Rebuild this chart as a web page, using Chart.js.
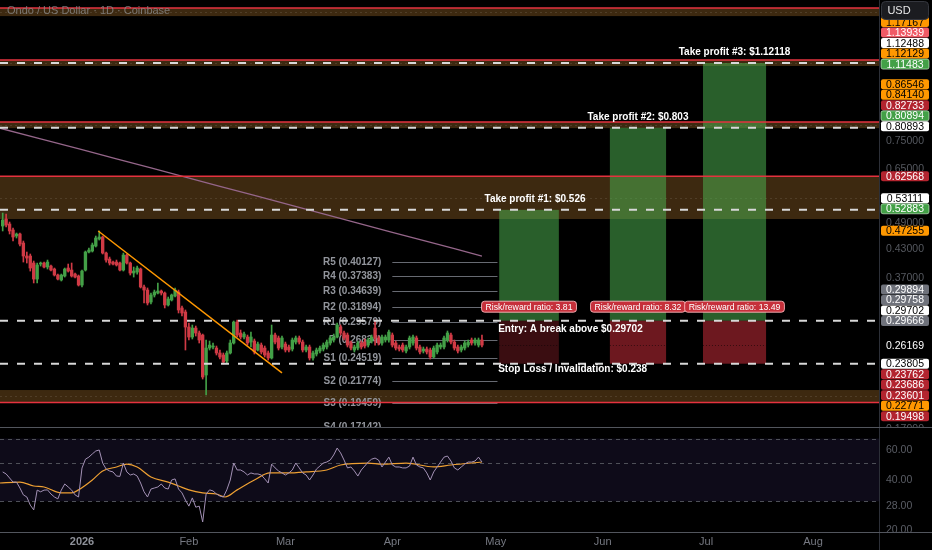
<!DOCTYPE html>
<html>
<head>
<meta charset="utf-8">
<script src="https://cdn.jsdelivr.net/npm/chart.js@4.4.1/dist/chart.umd.min.js"></script>
<style>
  html, body { margin: 0; padding: 0; background: #000; overflow: hidden; }
  #wrap { position: relative; width: 932px; height: 550px; background: #000; }
  #main { position: absolute; left: 0; top: 0; width: 932px; height: 428px; }
  #rsi { position: absolute; left: 0; top: 428px; width: 932px; height: 122px; }
</style>
</head>
<body>
<div id="wrap">
  <canvas id="main" width="932" height="428"></canvas>
  <canvas id="rsi" width="932" height="122"></canvas>
</div>
<script>
// ---- data (days counted from 1 Jan 2026) ----
var firstDay = -23;
var opens = [.4839,.5017,.4890,.4741,.4596,.4644,.4433,.4146,.4146,.3999,.3682,.3978,.3999,.3917,.3937,.3877,.3759,.3664,.3740,.3897,
  .3857,.3778,.3740,.3570,.3857,.4232,.4254,.4365,.4526,.4573,.4210,.4082,.4019,.4019,.3999,.3857,.4167,.3999,.3798,.3817,
  .3877,.3534,.3479,.3271,.3391,.3426,.3461,.3426,.3221,.3305,.3374,.3444,.3172,.3107,.2875,.2731,.2860,.2788,.2759,.2245,
  .2580,.2594,.2580,.2515,.2489,.2413,.2515,.2648,.2950,.2788,.2731,.2731,.2661,.2675,.2554,.2620,.2580,.2515,.2451,.2759,
  .2717,.2594,.2634,.2594,.2567,.2661,.2717,.2661,.2554,.2594,.2451,.2502,.2541,.2567,.2594,.2648,.2689,.2731,.2875,.2788,
  .2759,.2648,.2554,.2580,.2648,.2661,.2620,.2675,.2860,.2717,.2648,.2689,.2689,.2759,.2648,.2594,.2620,.2541,.2594,.2648,
  .2717,.2594,.2541,.2567,.2554,.2463,.2528,.2594,.2594,.2689,.2759,.2661,.2594,.2554,.2580,.2620,.2689,.2648,.2620,.2689];
var highs = [.5174,.5148,.4940,.4789,.4668,.4668,.4479,.4232,.4189,.4040,.3999,.4019,.4019,.4061,.3958,.3897,.3778,.3778,.3897,.3978,
  .3999,.3798,.3759,.3857,.4254,.4321,.4433,.4596,.4717,.4596,.4232,.4124,.4040,.4061,.4019,.4210,.4189,.4019,.3917,.3937,
  .3897,.3570,.3516,.3426,.3479,.3608,.3479,.3444,.3356,.3408,.3516,.3479,.3204,.3139,.2935,.2905,.2890,.2817,.2773,.2689,
  .2675,.2648,.2607,.2554,.2515,.2541,.2689,.2966,.2981,.2831,.2802,.2759,.2802,.2703,.2661,.2648,.2607,.2541,.2905,.2788,
  .2745,.2745,.2661,.2620,.2717,.2745,.2745,.2689,.2620,.2620,.2541,.2580,.2607,.2648,.2689,.2745,.2773,.2935,.2905,.2817,
  .2788,.2675,.2620,.2675,.2675,.2703,.2717,.2759,.2981,.2745,.2759,.2759,.2831,.2788,.2675,.2620,.2648,.2620,.2745,.2759,
  .2745,.2620,.2594,.2594,.2580,.2607,.2648,.2648,.2745,.2817,.2788,.2689,.2620,.2620,.2675,.2689,.2717,.2717,.2717,.2759];
var lows = [.4717,.4814,.4644,.4479,.4549,.4365,.4019,.3999,.3837,.3608,.3608,.3937,.3897,.3877,.3837,.3740,.3664,.3645,.3720,.3817,
  .3720,.3701,.3552,.3534,.3837,.4210,.4232,.4343,.4502,.4189,.4019,.3958,.3958,.3937,.3837,.3837,.3978,.3759,.3720,.3778,
  .3516,.3254,.3221,.3238,.3356,.3408,.3391,.3172,.3204,.3288,.3356,.3091,.3043,.2554,.2689,.2703,.2745,.2648,.2199,.2025,
  .2554,.2567,.2489,.2438,.2376,.2388,.2502,.2634,.2731,.2703,.2703,.2620,.2594,.2502,.2541,.2502,.2463,.2425,.2438,.2634,
  .2554,.2567,.2528,.2528,.2541,.2634,.2634,.2528,.2528,.2425,.2425,.2476,.2515,.2541,.2567,.2620,.2661,.2717,.2759,.2689,
  .2594,.2554,.2528,.2554,.2567,.2580,.2594,.2648,.2620,.2620,.2620,.2661,.2661,.2594,.2554,.2541,.2528,.2515,.2567,.2620,
  .2554,.2502,.2515,.2502,.2438,.2451,.2502,.2567,.2567,.2661,.2634,.2554,.2515,.2528,.2554,.2594,.2620,.2620,.2594,.2594];
var closes = [.4991,.4864,.4717,.4573,.4644,.4410,.4146,.4103,.3897,.3682,.3958,.3999,.3917,.4019,.3857,.3759,.3682,.3759,.3877,.3837,
  .3740,.3720,.3570,.3837,.4232,.4276,.4388,.4549,.4573,.4210,.4061,.3999,.3978,.3958,.3857,.4167,.3999,.3798,.3837,.3897,
  .3534,.3479,.3254,.3391,.3444,.3461,.3426,.3221,.3322,.3391,.3479,.3139,.3091,.2875,.2731,.2860,.2788,.2689,.2222,.2580,
  .2620,.2607,.2515,.2463,.2400,.2515,.2648,.2950,.2759,.2731,.2773,.2648,.2731,.2528,.2634,.2528,.2489,.2451,.2759,.2661,
  .2580,.2717,.2554,.2554,.2689,.2717,.2661,.2554,.2594,.2451,.2515,.2554,.2580,.2620,.2661,.2717,.2731,.2905,.2788,.2717,
  .2620,.2580,.2594,.2648,.2594,.2607,.2689,.2731,.2717,.2648,.2731,.2731,.2802,.2620,.2580,.2567,.2554,.2594,.2717,.2731,
  .2580,.2528,.2567,.2528,.2463,.2580,.2620,.2620,.2717,.2788,.2661,.2580,.2541,.2594,.2648,.2661,.2648,.2689,.2689,.2620];
var rsiValues = [44.6,43.4,41.1,38.9,38.9,35.9,32.7,31.8,28.5,26.7,34.9,34.1,34.9,35.0,33.1,31.8,31.0,34.9,37.9,36.4,
  34.9,32.7,31.8,47.0,53.0,54.5,56.9,59.2,60.0,50.3,46.4,45.2,44.6,42.2,42.0,50.3,44.6,42.8,43.4,42.2,
  38.4,34.1,31.8,35.4,35.9,36.4,37.9,35.9,35.4,40.0,40.6,35.4,33.6,30.5,28.1,31.4,27.7,28.1,22.7,33.1,
  35.0,34.5,33.1,32.2,31.8,35.0,40.0,50.3,45.8,45.8,44.6,42.8,44.0,43.4,43.4,42.8,40.6,38.4,49.6,47.1,
  45.2,44.0,42.8,44.0,45.8,50.3,47.1,44.0,42.8,40.0,42.8,46.4,48.3,50.3,51.0,52.4,56.1,61.6,57.7,52.4,
  47.1,47.7,45.2,42.2,45.8,48.3,51.0,53.0,53.8,52.4,47.7,51.0,54.5,49.0,47.7,47.7,47.1,47.1,48.3,54.5,
  49.0,47.7,47.1,44.0,40.0,44.6,47.7,51.0,54.5,55.3,51.7,47.1,45.8,47.7,49.6,51.0,51.0,51.7,54.5,51.0];
var rsiMaDays = [-24,-18,-14,-11,-6,-3,-1,3,6,10,13,16,20,25,28,31,35,39,41.5,45,50,54.5,59.5,65,71,75,83,87,94,102,107,116];
var rsiMaValues = [38.4,38.9,36.9,36.4,33.6,33.6,35.0,40.0,45.2,47.7,49.6,47.7,41.7,38.9,36.9,35.0,33.6,33.1,31.8,35.0,40.0,44.0,44.0,44.6,45.8,49.0,50.3,49.6,50.3,47.7,49.0,51.0];
var smaDays = [-24, 0, 20, 40, 60, 80, 100, 116];
var smaValues = [0.802, 0.717, 0.653, 0.594, 0.540, 0.491, 0.447, 0.4146];
var trendDays = [4.7, 58];
var trendPrices = [0.4717, 0.2269];

var pivotNames = ['R5', 'R4', 'R3', 'R2', 'R1', 'P', 'S1', 'S2', 'S3', 'S4'];
var pivotValues = [0.40127, 0.37383, 0.34639, 0.31894, 0.29579, 0.26834, 0.24519, 0.21774, 0.19459, 0.17142];
var pivotFrom = 90, pivotTo = 120.5;

var zoneHigh = [1.489, 1.13939, 0.82733, 0.62568, 0.2078];
var zoneLow = [1.428, 1.104, 0.8015, 0.5017, 0.19498];
var redLevels = [1.489, 1.13939, 0.82733, 0.62568, 0.19498];

var entry = 0.29702, stop = 0.238, currentPrice = 0.26169;
var targets = [0.526, 0.803, 1.12118];
var boxFrom = [121, 153.1, 180.1];
var boxTo = [138.3, 169.4, 198.4];
var rrRatios = ['3.81', '8.32', '13.49'];

var axisPrices = [1.17167, 1.13939, 1.12488, 1.12129, 1.11483, 0.86546, 0.84140, 0.82733, 0.80894, 0.80893,
  0.62568, 0.53111, 0.52883, 0.47255, 0.29894, 0.29758, 0.29702, 0.29666, 0.26169,
  0.23805, 0.23762, 0.23686, 0.23601, 0.22771, 0.19498];
var axisStyles = ['orange', 'pink', 'white', 'orange', 'green', 'orange', 'orange', 'red', 'green', 'white',
  'red', 'white', 'green', 'orange', 'grey', 'grey', 'white', 'grey', 'plain',
  'white', 'red', 'red', 'red', 'orange', 'red'];
var priceTicks = [0.75, 0.65, 0.49, 0.43, 0.37, 0.17];
var rsiTicks = [60, 40, 28, 20];
var rsiLevels = [70, 50, 30];
var monthDays = [0, 31, 59, 90, 120, 151, 181, 212];
var monthLabels = ['2026', 'Feb', 'Mar', 'Apr', 'May', 'Jun', 'Jul', 'Aug'];

// ---- view ----
var dayMin = -23.78, dayMax = 231.15;
var priceMin = 0.17174, priceMax = 1.5514;
var rsiMin = 19.81, rsiMax = 80.77;
var FONT = '"Liberation Sans", Arial, sans-serif';
var GREEN = '#43a047', RED = '#d03a45';

var labelStyle = {
  orange: { bg: '#ff9800', fg: '#000' },
  pink:   { bg: '#f05a66', fg: '#fff' },
  white:  { bg: '#ffffff', fg: '#000' },
  green:  { bg: '#43a047', fg: '#fff', border: 'rgba(220,255,220,0.6)' },
  red:    { bg: '#b3242f', fg: '#fff' },
  grey:   { bg: '#6f727b', fg: '#fff' },
  plain:  { bg: '#000000', fg: '#fff' }
};

var days = opens.map(function (o, i) { return firstDay + i; });
var candleColors = opens.map(function (o, i) { return closes[i] >= o ? GREEN : RED; });

function hLine(ctx, x1, x2, y) {
  ctx.beginPath(); ctx.moveTo(x1, y); ctx.lineTo(x2, y); ctx.stroke();
}
function rrect(ctx, x, y, w, h, r) {
  ctx.beginPath();
  ctx.moveTo(x + r, y); ctx.lineTo(x + w - r, y); ctx.quadraticCurveTo(x + w, y, x + w, y + r);
  ctx.lineTo(x + w, y + h - r); ctx.quadraticCurveTo(x + w, y + h, x + w - r, y + h);
  ctx.lineTo(x + r, y + h); ctx.quadraticCurveTo(x, y + h, x, y + h - r);
  ctx.lineTo(x, y + r); ctx.quadraticCurveTo(x, y, x + r, y);
  ctx.closePath();
}

var mainDecor = {
  id: 'mainDecor',
  beforeDatasetsDraw: function (chart) {
    var ctx = chart.ctx, a = chart.chartArea, x = chart.scales.x, y = chart.scales.y;
    ctx.save();
    // supply / demand zones
    zoneHigh.forEach(function (hi, k) {
      var y1 = y.getPixelForValue(hi), y2 = y.getPixelForValue(zoneLow[k]);
      ctx.fillStyle = '#3d2910';
      ctx.fillRect(a.left, y1, a.right - a.left, y2 - y1);
      ctx.setLineDash([2, 3]);
      ctx.strokeStyle = 'rgba(255,255,255,0.10)';
      ctx.lineWidth = 1;
      hLine(ctx, a.left, a.right, Math.round((y1 + y2) / 2) + 0.5);
      ctx.setLineDash([]);
    });
    // long position boxes
    targets.forEach(function (tp, k) {
      var xl = x.getPixelForValue(boxFrom[k]), xr = x.getPixelForValue(boxTo[k]);
      var yt = y.getPixelForValue(tp), ye = y.getPixelForValue(entry), ys = y.getPixelForValue(stop);
      ctx.fillStyle = 'rgba(76,175,80,0.54)';
      ctx.fillRect(xl, yt, xr - xl, ye - yt);
      ctx.fillStyle = k === 0 ? 'rgba(242,54,69,0.24)' : 'rgba(242,54,69,0.45)';
      ctx.fillRect(xl, ye, xr - xl, ys - ye);
      ctx.setLineDash([1, 2]);
      ctx.strokeStyle = 'rgba(0,0,0,0.5)';
      hLine(ctx, xl, xr, Math.round(y.getPixelForValue(currentPrice)) + 0.5);
      ctx.setLineDash([]);
    });
    // monthly pivots
    var px1 = x.getPixelForValue(pivotFrom), px2 = x.getPixelForValue(pivotTo);
    ctx.font = 'bold 10px ' + FONT;
    ctx.textAlign = 'right';
    ctx.textBaseline = 'middle';
    pivotValues.forEach(function (v, k) {
      var py = Math.round(y.getPixelForValue(v)) + 0.5;
      ctx.strokeStyle = '#676a72';
      ctx.lineWidth = 1;
      hLine(ctx, px1, px2, py);
      ctx.fillStyle = '#92959c';
      ctx.fillText(pivotNames[k] + ' (' + v.toFixed(5) + ')', px1 - 11, py);
    });
    ctx.restore();
  },
  afterDatasetsDraw: function (chart) {
    var ctx = chart.ctx, a = chart.chartArea, x = chart.scales.x, y = chart.scales.y;
    ctx.save();
    ctx.lineWidth = 1.5;
    ctx.strokeStyle = '#e5323f';
    redLevels.forEach(function (v) { hLine(ctx, a.left, a.right, y.getPixelForValue(v)); });
    ctx.lineWidth = 2;
    ctx.strokeStyle = '#d8d8d8';
    ctx.setLineDash([8, 9]);
    targets.concat([entry, stop]).forEach(function (v) { hLine(ctx, a.left, a.right, y.getPixelForValue(v)); });
    ctx.setLineDash([]);

    ctx.font = 'bold 10px ' + FONT;
    ctx.fillStyle = '#ffffff';
    ctx.textBaseline = 'middle';
    ctx.textAlign = 'center';
    targets.forEach(function (tp, k) {
      var cx = (x.getPixelForValue(boxFrom[k]) + x.getPixelForValue(boxTo[k])) / 2;
      ctx.fillText('Take profit #' + (k + 1) + ': $' + tp, cx + (k === 0 ? 6 : 0), y.getPixelForValue(tp) - 11);
    });
    ctx.textAlign = 'left';
    var ex = x.getPixelForValue(boxFrom[0]) - 1;
    ctx.fillText('Entry: A break above $' + entry, ex, y.getPixelForValue(entry) + 9);
    ctx.fillText('Stop Loss / Invalidation: $' + stop, ex, y.getPixelForValue(stop) + 5.5);

    // risk / reward badges
    ctx.font = '8.7px ' + FONT;
    ctx.textAlign = 'center';
    targets.forEach(function (tp, k) {
      var cx = (x.getPixelForValue(boxFrom[k]) + x.getPixelForValue(boxTo[k])) / 2;
      var cy = y.getPixelForValue(entry) - 14;
      var txt = 'Risk/reward ratio: ' + rrRatios[k];
      var w = ctx.measureText(txt).width + 8;
      rrect(ctx, cx - w / 2, cy - 5.5, w, 11, 3);
      ctx.fillStyle = '#c6303b';
      ctx.fill();
      ctx.strokeStyle = 'rgba(255,190,195,0.85)';
      ctx.lineWidth = 1;
      ctx.stroke();
      ctx.fillStyle = '#ffffff';
      ctx.fillText(txt, cx, cy + 0.5);
    });

    // title
    ctx.font = '11px ' + FONT;
    ctx.textAlign = 'left';
    ctx.fillStyle = 'rgba(140,140,140,0.8)';
    ctx.fillText('Ondo / US Dollar \u00b7 1D \u00b7 Coinbase', 7, 10.5);
    ctx.restore();
  },
  afterDraw: function (chart) {
    var ctx = chart.ctx, a = chart.chartArea, y = chart.scales.y, W = chart.width;
    ctx.save();
    ctx.fillStyle = '#000';
    ctx.fillRect(a.right, 0, W - a.right, chart.height);
    ctx.strokeStyle = '#2c2f37';
    ctx.lineWidth = 1;
    ctx.beginPath(); ctx.moveTo(a.right + 0.5, 0); ctx.lineTo(a.right + 0.5, chart.height); ctx.stroke();

    ctx.font = '10.5px ' + FONT;
    ctx.textBaseline = 'middle';
    ctx.textAlign = 'center';
    var cx = a.right + 26;
    priceTicks.forEach(function (v) {
      ctx.fillStyle = '#55585f';
      ctx.fillText(v.toFixed(5), cx, y.getPixelForValue(v));
    });

    // price labels, stacked away from the current price
    var LH = 10.5;
    var items = axisPrices.map(function (p, i) { return { p: p, s: axisStyles[i], y: y.getPixelForValue(p) }; });
    var prev = Infinity;
    items.filter(function (it) { return it.p > currentPrice; })
      .sort(function (m, n) { return m.p - n.p; })
      .forEach(function (it) { it.d = Math.min(it.y, prev - LH); prev = it.d; });
    prev = -Infinity;
    items.filter(function (it) { return it.p < currentPrice; })
      .sort(function (m, n) { return n.p - m.p; })
      .forEach(function (it) { it.d = Math.max(it.y, prev + LH); prev = it.d; });
    items.forEach(function (it) {
      if (it.d === undefined) it.d = it.y;
      var st = labelStyle[it.s];
      rrect(ctx, a.right + 2, it.d - 5, 48, 10, 2);
      ctx.fillStyle = st.bg;
      ctx.fill();
      if (st.border) { ctx.strokeStyle = st.border; ctx.lineWidth = 1; ctx.stroke(); }
      ctx.fillStyle = st.fg;
      ctx.fillText(it.p.toFixed(5), cx, it.d + 0.5);
    });

    // currency box
    rrect(ctx, a.right + 2.5, 1.5, 47, 18, 4);
    ctx.fillStyle = '#1b1c20';
    ctx.fill();
    ctx.strokeStyle = '#34363d';
    ctx.stroke();
    ctx.font = '11px ' + FONT;
    ctx.fillStyle = '#e8e8e8';
    ctx.fillText('USD', a.right + 20, 11);

    // pane separator
    ctx.strokeStyle = '#52555d';
    hLine(ctx, 0, W, a.bottom + 0.5);
    ctx.restore();
  }
};

var rsiDecor = {
  id: 'rsiDecor',
  beforeDatasetsDraw: function (chart) {
    var ctx = chart.ctx, a = chart.chartArea, y = chart.scales.y;
    ctx.save();
    var yt = y.getPixelForValue(rsiLevels[0]), yb = y.getPixelForValue(rsiLevels[2]);
    ctx.fillStyle = '#0e0b19';
    ctx.fillRect(a.left, yt, a.right - a.left, yb - yt);
    ctx.strokeStyle = '#4e5058';
    ctx.lineWidth = 1;
    ctx.setLineDash([4, 4]);
    rsiLevels.forEach(function (v) { hLine(ctx, a.left, a.right, Math.round(y.getPixelForValue(v)) + 0.5); });
    ctx.restore();
  },
  afterDraw: function (chart) {
    var ctx = chart.ctx, a = chart.chartArea, x = chart.scales.x, y = chart.scales.y, W = chart.width;
    ctx.save();
    ctx.fillStyle = '#000';
    ctx.fillRect(a.right, 0, W - a.right, chart.height);
    ctx.strokeStyle = '#2c2f37';
    ctx.lineWidth = 1;
    ctx.beginPath(); ctx.moveTo(a.right + 0.5, 0); ctx.lineTo(a.right + 0.5, chart.height); ctx.stroke();
    ctx.font = '10.5px ' + FONT;
    ctx.textBaseline = 'middle';
    ctx.textAlign = 'left';
    ctx.fillStyle = '#5a5d65';
    rsiTicks.forEach(function (v) {
      ctx.fillText(v.toFixed(2), a.right + 7, Math.min(y.getPixelForValue(v), a.bottom - 2));
    });
    ctx.strokeStyle = '#52555d';
    hLine(ctx, 0, W, a.bottom + 0.5);
    ctx.textAlign = 'center';
    monthDays.forEach(function (d, k) {
      ctx.font = (k === 0 ? 'bold ' : '') + '11px ' + FONT;
      ctx.fillStyle = k === 0 ? '#8e9199' : '#767982';
      ctx.fillText(monthLabels[k], x.getPixelForValue(d), a.bottom + 9.5);
    });
    ctx.restore();
  }
};

var common = {
  responsive: false,
  animation: false,
  events: [],
  plugins: { legend: { display: false }, tooltip: { enabled: false } }
};

new Chart(document.getElementById('main'), {
  type: 'bar',
  data: {
    datasets: [
      { type: 'line', data: smaDays.map(function (d, i) { return { x: d, y: smaValues[i] }; }),
        borderColor: '#95668a', borderWidth: 1.3, pointRadius: 0, tension: 0.4, order: 5 },
      { data: days.map(function (d, i) { return { x: d, y: [lows[i], highs[i]] }; }),
        backgroundColor: candleColors, barThickness: 1, grouped: false, order: 4 },
      { data: days.map(function (d, i) { return { x: d, y: [opens[i], closes[i]] }; }),
        backgroundColor: candleColors, barThickness: 2.7, grouped: false, order: 3 },
      { type: 'line', data: trendDays.map(function (d, i) { return { x: d, y: trendPrices[i] }; }),
        borderColor: '#ff9800', borderWidth: 1.5, pointRadius: 0, order: 1 }
    ]
  },
  options: Object.assign({}, common, {
    layout: { padding: { left: 0, right: 53, top: 0, bottom: 1 } },
    scales: {
      x: { type: 'linear', min: dayMin, max: dayMax, display: false, offset: false },
      y: { type: 'logarithmic', min: priceMin, max: priceMax, display: false }
    }
  }),
  plugins: [mainDecor]
});

new Chart(document.getElementById('rsi'), {
  type: 'line',
  data: {
    datasets: [
      { data: days.map(function (d, i) { return { x: d, y: rsiValues[i] }; }),
        borderColor: '#a391b5', borderWidth: 1, pointRadius: 0, tension: 0 },
      { data: rsiMaDays.map(function (d, i) { return { x: d, y: rsiMaValues[i] }; }),
        borderColor: '#eea033', borderWidth: 1.2, pointRadius: 0, cubicInterpolationMode: 'monotone' }
    ]
  },
  options: Object.assign({}, common, {
    layout: { padding: { left: 0, right: 53, top: 0, bottom: 18 } },
    scales: {
      x: { type: 'linear', min: dayMin, max: dayMax, display: false },
      y: { type: 'logarithmic', min: rsiMin, max: rsiMax, display: false }
    }
  }),
  plugins: [rsiDecor]
});
</script>
</body>
</html>
